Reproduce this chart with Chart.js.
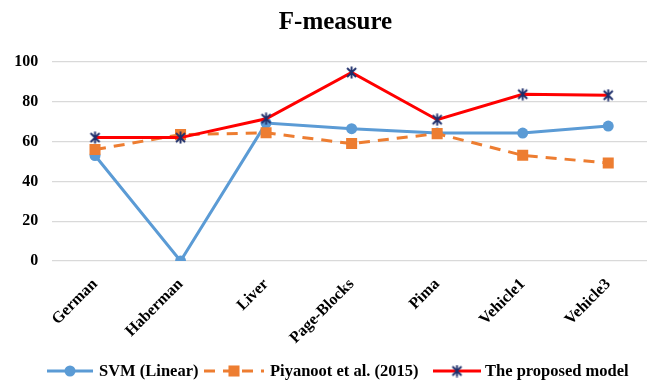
<!DOCTYPE html>
<html>
<head>
<meta charset="utf-8">
<script src="https://cdn.jsdelivr.net/npm/chart.js@4.4.1/dist/chart.umd.min.js"></script>
<style>
  html, body { margin: 0; padding: 0; background: #ffffff; overflow: hidden; }
  #wrap { position: relative; width: 660px; height: 381px; }
</style>
</head>
<body>
<div id="wrap"><canvas id="chart"></canvas></div>
<script>
// F-measure per dataset for three classifiers
const categories = ['German', 'Haberman', 'Liver', 'Page-Blocks', 'Pima', 'Vehicle1', 'Vehicle3'];
const svmLinear = [53, 0, 69.3, 66.5, 64.3, 64.3, 67.8];
const piyanoot2015 = [56, 63.5, 64.4, 59, 64, 53.1, 49.2];
const proposedModel = [62, 62, 71.5, 94.7, 71, 83.8, 83.3];
const yTicks = [0, 20, 40, 60, 80, 100];
const seriesNames = ['SVM (Linear)', 'Piyanoot et al. (2015)', 'The proposed model'];

const FONT = '"Liberation Serif", "Times New Roman", serif';
const BLUE = '#5b9bd5';
const ORANGE = '#ed7d31';
const RED = '#ff0000';
const NAVY = '#1f2f6b';

// asterisk marker: an X crossed by a vertical stroke
function makeStar() {
  const c = document.createElement('canvas');
  c.width = 13; c.height = 13;
  const g = c.getContext('2d');
  g.strokeStyle = NAVY;
  g.lineWidth = 1.9;
  g.beginPath();
  g.moveTo(2, 2); g.lineTo(11, 11);
  g.moveTo(11, 2); g.lineTo(2, 11);
  g.moveTo(6.5, 0.5); g.lineTo(6.5, 12.5);
  g.stroke();
  return c;
}
const starImg = makeStar();

// legend layout: sample segment [start, end] and text start for each series
const legendSlots = [
  { x0: 47, x1: 93, tx: 99 },
  { x0: 204, x1: 264, tx: 270 },
  { x0: 433, x1: 481, tx: 485 }
];

// legend drawn as line + marker samples followed by the series name;
// the title is centred over the visible part of the canvas
const lineLegend = {
  id: 'lineLegend',
  afterLayout(chart) {
    if (chart.titleBlock) { chart.titleBlock.left = 20; chart.titleBlock.right = 651; }
  },
  afterDraw(chart) {
    const ctx = chart.ctx;
    const y = 371;
    ctx.save();
    chart.data.datasets.forEach((ds, i) => {
      const s = legendSlots[i];
      ctx.save();
      ctx.strokeStyle = ds.borderColor;
      ctx.lineWidth = 3;
      ctx.setLineDash(ds.borderDash || []);
      ctx.beginPath();
      ctx.moveTo(s.x0, y); ctx.lineTo(s.x1, y);
      ctx.stroke();
      ctx.restore();
      const cx = (s.x0 + s.x1) / 2;
      if (ds.pointStyle === 'circle') {
        ctx.fillStyle = ds.pointBackgroundColor;
        ctx.beginPath(); ctx.arc(cx, y, ds.pointRadius, 0, Math.PI * 2); ctx.fill();
      } else if (ds.pointStyle === 'rect') {
        const h = Math.SQRT1_2 * ds.pointRadius;
        ctx.fillStyle = ds.pointBackgroundColor;
        ctx.fillRect(cx - h, y - h, 2 * h, 2 * h);
      } else {
        ctx.drawImage(starImg, cx - starImg.width / 2, y - starImg.height / 2);
      }
      ctx.font = 'bold 16.5px ' + FONT;
      ctx.fillStyle = '#000';
      ctx.textBaseline = 'middle';
      ctx.textAlign = 'left';
      ctx.fillText(seriesNames[i], s.tx, y + 1);
    });
    ctx.restore();
  }
};

new Chart(document.getElementById('chart'), {
  type: 'line',
  data: {
    labels: categories,
    datasets: [
      {
        label: seriesNames[0], data: svmLinear, order: 3,
        borderColor: BLUE, borderWidth: 3, tension: 0,
        pointStyle: 'circle', pointRadius: 5.5,
        pointBackgroundColor: BLUE, pointBorderColor: BLUE, pointBorderWidth: 0
      },
      {
        label: seriesNames[1], data: piyanoot2015, order: 2,
        borderColor: ORANGE, borderWidth: 3, borderDash: [11, 8], tension: 0,
        pointStyle: 'rect', pointRadius: 7.8,
        pointBackgroundColor: ORANGE, pointBorderColor: ORANGE, pointBorderWidth: 0
      },
      {
        label: seriesNames[2], data: proposedModel, order: 1,
        borderColor: RED, borderWidth: 3, tension: 0,
        pointStyle: starImg, pointRadius: 6
      }
    ]
  },
  options: {
    responsive: true,
    maintainAspectRatio: false,
    animation: false,
    layout: { padding: 0 },
    plugins: {
      legend: { display: false },
      tooltip: { enabled: false },
      title: {
        display: true,
        text: 'F-measure',
        color: '#000',
        font: { family: FONT, size: 25, weight: 'bold' },
        padding: { top: 8, bottom: 24 }
      }
    },
    scales: {
      x: {
        type: 'category',
        offset: true,
        grid: { display: false },
        border: { display: false },
        ticks: {
          color: '#000',
          font: { family: FONT, size: 16, weight: 'bold' },
          minRotation: 45, maxRotation: 45,
          padding: 6,
          autoSkip: false
        },
        afterFit(scale) {
          scale.height = 120;
          scale.paddingLeft = 0;
          scale.paddingRight = 0;
        }
      },
      y: {
        min: 0, max: 100,
        afterBuildTicks(scale) { scale.ticks = yTicks.map(v => ({ value: v })); },
        grid: { color: '#d9d9d9', lineWidth: 1.3, drawTicks: false },
        border: { display: false },
        ticks: {
          color: '#000',
          font: { family: FONT, size: 16, weight: 'bold' },
          padding: 14
        },
        afterFit(scale) { scale.width = 52.25; }
      }
    }
  },
  plugins: [lineLegend]
});
</script>
</body>
</html>
